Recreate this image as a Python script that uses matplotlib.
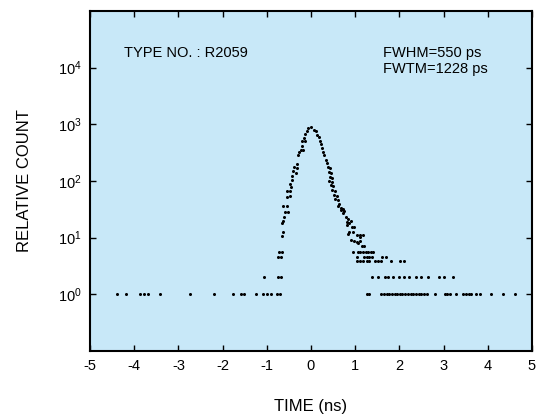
import numpy as np
import matplotlib
matplotlib.use('Agg')
import matplotlib.pyplot as plt

plt.rcParams['font.family'] = ['Liberation Sans', 'DejaVu Sans']
plt.rcParams['mathtext.fontset'] = 'custom'
plt.rcParams['mathtext.rm'] = 'Liberation Sans'

# main peak (time in ns, relative count)
peak_time = [-0.65, -0.63, -0.65, -0.63, -0.61, -0.59, -0.53, -0.63, -0.55,
             -0.54, -0.47, -0.54, -0.47, -0.45, -0.48, -0.44, -0.43, -0.41,
             -0.35, -0.38, -0.32, -0.32, -0.30, -0.26, -0.23, -0.19, -0.21,
             -0.20, -0.13, -0.15, -0.14, -0.10, -0.06, 0.00,
             0.06, 0.11, 0.14, 0.17, 0.20, 0.23, 0.24, 0.28, 0.29, 0.33,
             0.36, 0.38, 0.43, 0.41, 0.45, 0.43, 0.48, 0.41, 0.47, 0.45,
             0.50, 0.48, 0.54, 0.51, 0.58, 0.54, 0.60, 0.63, 0.62, 0.68,
             0.73, 0.69, 0.75, 0.72, 0.79, 0.84, 0.90, 0.81, 0.87, 0.82,
             0.92, 0.97, 0.87, 0.94, 0.84, 1.03, 1.12, 1.18, 1.11, 0.90,
             0.97, 1.05, 1.12, 1.07, 1.15, 1.20, 0.96]
peak_count = [10.8, 12.7, 17.9, 20, 23, 28, 28, 36, 36,
              52, 54, 67, 67, 78, 90, 103, 121, 150,
              138, 176, 172, 202, 282, 323, 356, 356, 423,
              518, 503, 577, 679, 775, 865, 885,
              798, 775, 641, 591, 503, 441, 385, 323, 282, 237,
              207, 176, 172, 144, 138, 118, 115, 100, 96, 84,
              81, 69, 67, 57, 55, 48, 46, 40, 36, 34,
              32, 31, 30, 27, 23, 21, 20, 18.9, 18.3, 16.7,
              15.6, 15.6, 12.7, 12.7, 11.5, 11.1, 11.1, 11.1, 10.2, 9.1,
              8.9, 8.5, 8.9, 8.0, 7.1, 7.1, 5.5]

# low-count rows (one count level per row)
row_level = [5.7, 4.6, 3.8, 2.0, 1.0]
row_time = [
    [-0.72, -0.65, 1.07, 1.12, 1.18, 1.24, 1.30, 1.35, 1.41],
    [-0.75, -0.68, 1.03, 1.20, 1.26, 1.32, 1.37, 1.60, 1.70],
    [1.05, 1.11, 1.18, 1.26, 1.32, 1.45, 1.52, 1.58, 1.80, 2.01, 2.10],
    [-1.06, -0.75, -0.68, 1.37, 1.52, 1.67, 1.75, 1.86, 2.00, 2.10, 2.22,
     2.38, 2.48, 2.65, 2.90, 3.01, 3.21],
    [-4.40, -4.19, -3.88, -3.78, -3.68, -3.42, -2.73, -2.19, -1.77, -1.59,
     -1.52, -1.25, -1.08, -1.00, -0.91, -0.78, -0.70,
     1.26, 1.32, 1.58, 1.65, 1.71, 1.77, 1.83, 1.89, 1.95, 2.01, 2.07,
     2.13, 2.20, 2.26, 2.31, 2.38, 2.44, 2.50, 2.56, 2.62, 2.81, 3.03,
     3.08, 3.14, 3.28, 3.45, 3.51, 3.57, 3.61, 3.73, 3.82, 4.07, 4.34,
     4.62],
]

x_ticks = [-5, -4, -3, -2, -1, 0, 1, 2, 3, 4, 5]
y_ticks = [1, 10, 100, 1000, 10000]

fig = plt.figure(figsize=(5.38, 4.16), dpi=100)
ax = fig.add_axes([0.1673, 0.1562, 0.8215, 0.8174])
ax.set_facecolor('#c8e8f8')

ax.plot(peak_time, peak_count, 'o', color='black', ms=2.2, mew=0)
for lvl, ts in zip(row_level, row_time):
    ax.plot(ts, [lvl] * len(ts), 'o', color='black', ms=2.2, mew=0)

ax.set_yscale('log')
ax.set_xlim(-5, 5)
ax.set_ylim(0.1, 1e5)
ax.set_xticks(x_ticks)
ax.set_xticklabels([str(t) for t in x_ticks])
ax.set_yticks(y_ticks)
ax.minorticks_off()
ax.tick_params(direction='in', length=4.5, width=1, top=True, right=True,
               labelsize=10.5, pad=6)
for sp in ax.spines.values():
    sp.set_linewidth(1.5)

ax.set_xlabel('TIME (ns)', fontsize=12)
ax.set_ylabel('RELATIVE COUNT', fontsize=12)
ax.xaxis.set_label_coords(0.5, -0.141)
ax.yaxis.set_label_coords(-0.131, 0.5)

ax.text(-4.23, 1.8e4, 'TYPE NO. : R2059', fontsize=10.5, va='center')
ax.text(1.64, 1.8e4, 'FWHM=550 ps', fontsize=10.5, va='center')
ax.text(1.64, 9.5e3, 'FWTM=1228 ps', fontsize=10.5, va='center')

fig.savefig('out.png', dpi=100)
